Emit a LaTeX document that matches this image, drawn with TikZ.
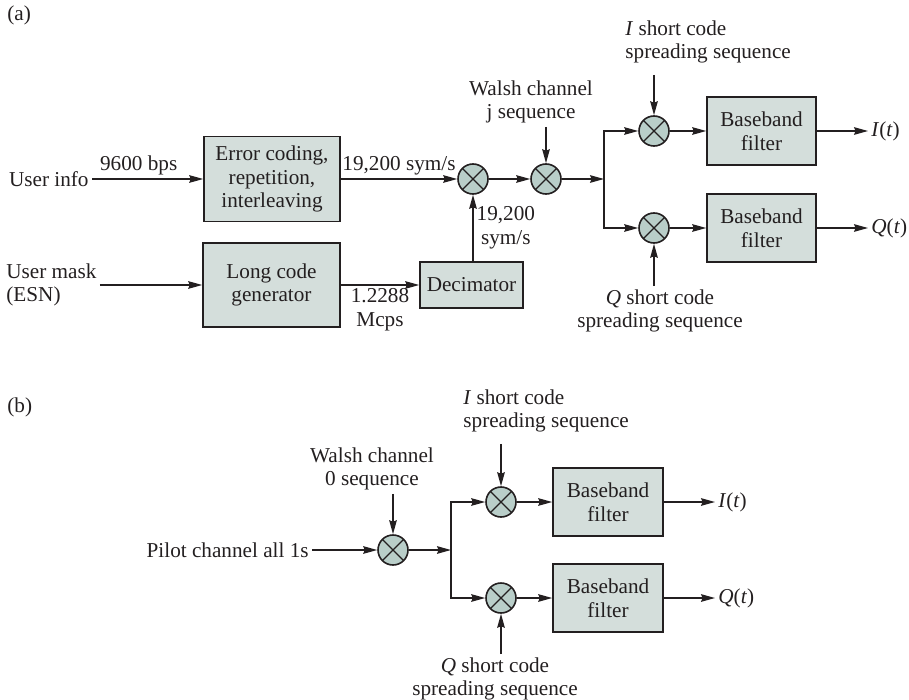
\documentclass[tikz,border=0pt]{standalone}
\usepackage{fontspec}
\setmainfont{Liberation Serif}
\usetikzlibrary{positioning,arrows.meta}
\definecolor{blkfill}{HTML}{D4DEDB}
\definecolor{mixfill}{HTML}{B9CEC9}
\definecolor{inkdark}{HTML}{231F20}

\begin{document}
\begin{tikzpicture}[
      x=0.5pt, y=-0.5pt,
      every node/.style={font=\fontsize{10.6}{11.8}\selectfont, text=inkdark},
      blk/.style={
        draw=inkdark, line width=0.8pt,
        fill=blkfill,
        align=center,
        inner sep=0pt
      },
      mixer/.style={
        circle, draw=inkdark, line width=0.8pt,
        fill=mixfill,
        minimum size=15pt, inner sep=0pt,
        path picture={\draw[inkdark, line width=0.6pt]
          (path picture bounding box.north west) -- (path picture bounding box.south east)
          (path picture bounding box.north east) -- (path picture bounding box.south west);}
      },
      lbl/.style={inner sep=1.5pt},
      sig/.style={draw=inkdark, line width=0.7pt, -{Stealth[length=7pt,width=3.8pt,inset=0.8pt]}}
    ]
      \useasboundingbox (0,0) rectangle (909,700);

      % (a)
      \node[lbl, anchor=west] (taga) at (4,15) {(a)};
      \node[lbl, anchor=east] (uinfo) at (92,179) {User info};
      \node[blk, minimum width=68pt, minimum height=42.5pt] (err) at (272,179) {Error coding,\\repetition,\\interleaving};
      \node[lbl, anchor=west, align=left] (umask) at (3,285) {User mask\\(ESN)};
      \node[blk, minimum width=68.5pt, minimum height=42pt] (lcg) at (271.5,285) {Long code\\generator};
      \node[blk, minimum width=51.5pt, minimum height=23pt] (dec) at (471.5,285) {Decimator};
      \node[mixer] (m1) at (473,179) {};
      \node[mixer] (m2) at (546,179) {};
      \coordinate (sa) at (604,179);
      \node[mixer] (m3) at (654,131) {};
      \node[mixer] (m4) at (654,228) {};
      \node[blk, minimum width=54.5pt, minimum height=34pt] (bfi) at (761.5,131) {Baseband\\filter};
      \node[blk, minimum width=54.5pt, minimum height=34pt] (bfq) at (761.5,228) {Baseband\\filter};
      \node[lbl, anchor=west] (outi) at (868,131) {\textit{I}(\textit{t})};
      \node[lbl, anchor=west] (outq) at (868,228) {\textit{Q}(\textit{t})};
      \node[lbl, align=center] (wj) at (531,102) {Walsh channel\\j sequence};
      \node[lbl, anchor=west, align=left] (ia) at (622,42) {\textit{I} short code\\spreading sequence};
      \node[lbl, align=center] (qa) at (660,311) {\textit{Q} short code\\spreading sequence};

      \draw[sig] (uinfo) -- node[lbl, above, pos=0.42] {9600 bps} (err);
      \draw[sig] (err) -- node[lbl, above] {19,200 sym/s} (m1);
      \draw[sig] (umask.east |- lcg) -- (lcg);
      \draw[sig] (lcg) -- node[lbl, below, align=center] {1.2288\\Mcps} (dec);
      \draw[sig] (dec.north -| m1) -- node[lbl, right, align=center] {19,200\\sym/s} (m1);
      \draw[sig] (m1) -- (m2);
      \draw[sig] (wj.south -| m2) -- (m2);
      \draw[sig] (m2) -- (sa);
      \draw[sig] (sa) |- (m3);
      \draw[sig] (sa) |- (m4);
      \draw[sig, shorten <=4pt] (ia.south -| m3) -- (m3);
      \draw[sig] (qa.north -| m4) -- (m4);
      \draw[sig] (m3) -- (bfi);
      \draw[sig] (m4) -- (bfq);
      \draw[sig] (bfi) -- (outi);
      \draw[sig] (bfq) -- (outq);

      % (b)
      \node[lbl, anchor=west] (tagb) at (4,407) {(b)};
      \node[lbl, anchor=east] (pilot) at (312,550) {Pilot channel all 1s};
      \node[mixer] (m5) at (393,550) {};
      \coordinate (sb) at (451,550);
      \node[mixer] (m6) at (501,502) {};
      \node[mixer] (m7) at (501,598) {};
      \node[blk, minimum width=55pt, minimum height=34pt] (bfi2) at (608,502) {Baseband\\filter};
      \node[blk, minimum width=55pt, minimum height=34pt] (bfq2) at (608,598) {Baseband\\filter};
      \node[lbl, anchor=west] (outi2) at (715,502) {\textit{I}(\textit{t})};
      \node[lbl, anchor=west] (outq2) at (715,598) {\textit{Q}(\textit{t})};
      \node[lbl, align=center] (w0) at (372,469) {Walsh channel\\0 sequence};
      \node[lbl, anchor=west, align=left] (ib) at (460,411) {\textit{I} short code\\spreading sequence};
      \node[lbl, align=center] (qb) at (495,679) {\textit{Q} short code\\spreading sequence};

      \draw[sig] (pilot) -- (m5);
      \draw[sig] (w0.south -| m5) -- (m5);
      \draw[sig] (m5) -- (sb);
      \draw[sig] (sb) |- (m6);
      \draw[sig] (sb) |- (m7);
      \draw[sig, shorten <=4pt] (ib.south -| m6) -- (m6);
      \draw[sig] (qb.north -| m7) -- (m7);
      \draw[sig] (m6) -- (bfi2);
      \draw[sig] (m7) -- (bfq2);
      \draw[sig] (bfi2) -- (outi2);
      \draw[sig] (bfq2) -- (outq2);
    \end{tikzpicture}
\end{document}
